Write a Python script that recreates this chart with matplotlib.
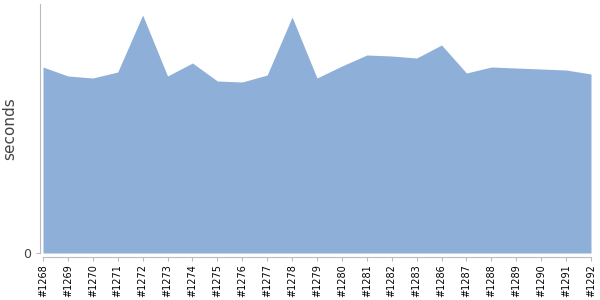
import numpy as np
import matplotlib.pyplot as plt

builds = ['#1268', '#1269', '#1270', '#1271', '#1272', '#1273', '#1274', '#1275',
          '#1276', '#1277', '#1278', '#1279', '#1280', '#1281', '#1282', '#1283',
          '#1286', '#1287', '#1288', '#1289', '#1290', '#1291', '#1292']
seconds = [186, 177, 175, 181, 238, 177, 190, 172, 171, 178, 236, 175,
           187, 198, 197, 195, 208, 180, 186, 185, 184, 183, 179]

x = np.arange(len(builds))

fig = plt.figure(figsize=(6, 3), dpi=100)
# data area: x 43..591 px, y 4..253 px
ax = fig.add_axes([43/600, (300-253)/300, (591-43)/600, (253-4)/300])
ax.fill_between(x, 0, seconds, color='#8eb0d8', linewidth=0)

ax.set_xlim(0, len(builds) - 1)
ax.set_ylim(0, 249)
ax.set_xticks(x)
ax.set_xticklabels(builds)
ax.set_yticks([0])
ax.set_yticklabels(['0'])
ax.set_ylabel('seconds', fontsize=11, color='#444444', labelpad=4)

for s in ['top', 'right']:
    ax.spines[s].set_visible(False)
ax.spines['left'].set_position(('outward', 2.5))
ax.spines['bottom'].set_position(('outward', 3.2))
ax.spines['left'].set_color('#bbbbbb')
ax.spines['bottom'].set_color('#bbbbbb')
ax.tick_params(axis='x', length=3, color='#bbbbbb', pad=2,
               labelrotation=90, labelsize=7, labelcolor='black')
ax.tick_params(axis='y', length=3, color='#bbbbbb', pad=3,
               labelsize=9, labelcolor='#444444')

fig.savefig('out.png', dpi=100)
